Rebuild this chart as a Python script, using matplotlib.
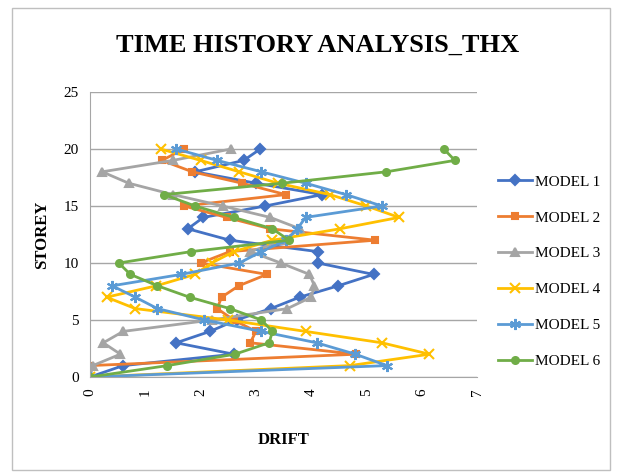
import matplotlib.pyplot as plt
from matplotlib.patches import Rectangle

# storey numbers and drift for each model
storey = list(range(21))

model_1 = [0, 0.6, 2.6, 1.56, 2.17, 2.65, 3.27, 3.79, 4.49, 5.13, 4.12,
           4.12, 2.53, 1.77, 2.05, 3.17, 4.2, 3.0, 1.9, 2.78, 3.08]
model_2 = [0, 0, 4.82, 2.9, 3.0, 2.6, 2.3, 2.38, 2.69, 3.2, 2.0,
           2.53, 5.16, 3.26, 2.47, 1.7, 3.54, 2.75, 1.85, 1.3, 1.7]
model_3 = [0, 0.05, 0.55, 0.24, 0.6, 2.2, 3.57, 4.0, 4.06, 3.97, 3.45,
           2.9, 3.5, 3.8, 3.26, 2.4, 1.5, 0.7, 0.22, 1.5, 2.55]
model_4 = [0, 4.7, 6.14, 5.28, 3.9, 2.5, 0.82, 0.3, 1.2, 1.9, 2.2,
           2.6, 3.3, 4.52, 5.59, 5.0, 4.34, 3.4, 2.7, 2.0, 1.28]
model_5 = [0, 5.37, 4.8, 4.1, 3.1, 2.07, 1.22, 0.82, 0.4, 1.65, 2.7,
           3.1, 3.55, 3.75, 3.9, 5.28, 4.63, 3.9, 3.1, 2.3, 1.56]
model_6 = [0, 1.4, 2.62, 3.24, 3.3, 3.1, 2.53, 1.8, 1.22, 0.73, 0.52,
           1.83, 3.6, 3.3, 2.6, 1.9, 1.34, 3.48, 5.36, 6.6, 6.4]

names = ['MODEL 1', 'MODEL 2', 'MODEL 3', 'MODEL 4', 'MODEL 5', 'MODEL 6']
series = [model_1, model_2, model_3, model_4, model_5, model_6]
colors = ['#4472C4', '#ED7D31', '#A5A5A5', '#FFC000', '#5B9BD5', '#70AD47']
markers = ['D', 's', '^', 'x', (6, 2, 0), 'o']
msizes = [5, 5, 6, 7, 8, 5]

plt.rcParams['font.family'] = 'Liberation Serif'

fig = plt.figure(figsize=(6.22, 4.76), dpi=100)

# chart frame
frame = Rectangle((12 / 622, 6 / 476), 598 / 622, 462 / 476,
                  transform=fig.transFigure, facecolor='none',
                  edgecolor='#BFBFBF', linewidth=1)
fig.patches.append(frame)

ax = fig.add_axes([90 / 622, 1 - 377 / 476, 387 / 622, 285 / 476])

for y_vals, name, c, m, ms in zip(series, names, colors, markers, msizes):
    ax.plot(y_vals, storey, color=c, marker=m, markersize=ms, linewidth=2,
            markeredgewidth=1.5, label=name)

ax.set_xlim(0, 7)
ax.set_ylim(0, 25)
ax.set_xticks(range(8))
ax.set_yticks(range(0, 26, 5))
ax.tick_params(axis='x', labelrotation=90, length=0, labelsize=11, pad=8)
ax.tick_params(axis='y', length=0, labelsize=11, pad=8)
ax.grid(axis='y', color='#A6A6A6', linewidth=1)
ax.set_axisbelow(True)
for side in ['top', 'right']:
    ax.spines[side].set_visible(False)
ax.spines['left'].set_color('#A6A6A6')
ax.spines['bottom'].set_color('#A6A6A6')

fig.text(318 / 622, 1 - 45 / 476, 'TIME HISTORY ANALYSIS_THX', ha='center',
         va='center', fontsize=19, fontweight='bold')
ax.set_xlabel('DRIFT', fontsize=12, fontweight='bold', labelpad=26)
ax.set_ylabel('STOREY', fontsize=12, fontweight='bold', labelpad=10)

ax.legend(loc='center left', bbox_to_anchor=(1.02, 0.37), frameon=False,
          fontsize=11, labelspacing=1.45, handlelength=2.2, handletextpad=0.2)

plt.savefig('out.png', dpi=100)
